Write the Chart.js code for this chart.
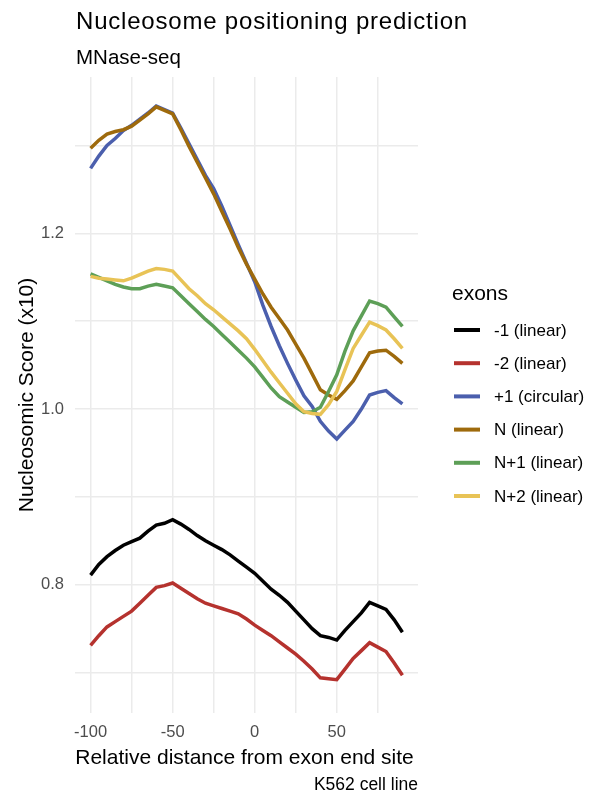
<!DOCTYPE html>
<html>
<head>
<meta charset="utf-8">
<script src="https://cdn.jsdelivr.net/npm/chart.js@4/dist/chart.umd.min.js"></script>
<style>
  body { margin: 0; background: #fff; }
  canvas { display: block; }
</style>
</head>
<body>
<canvas id="grafico" width="594" height="800"></canvas>
<script>
// posições relativas ao fim do exon
const distancias = [-100, -95, -90, -85, -80, -75, -70, -65, -60, -55, -50, -45, -40, -35, -30, -25, -20, -15, -10, -5,
  0, 5, 10, 15, 20, 25, 30, 35, 40, 45, 50, 55, 60, 65, 70, 75, 80, 85, 90];

const exonsNomes = ["-1 (linear)", "-2 (linear)", "+1 (circular)", "N (linear)", "N+1 (linear)", "N+2 (linear)"];
const exonsCores = ["#000000", "#B5322E", "#4B5FAD", "#9E6A0C", "#5D9F57", "#E8C356"];

const menos1 = [0.811, 0.823, 0.832, 0.839, 0.845, 0.849, 0.853, 0.861, 0.868, 0.870, 0.874, 0.869, 0.863, 0.856, 0.850, 0.845, 0.840, 0.834, 0.827, 0.820,
  0.813, 0.804, 0.795, 0.788, 0.780, 0.770, 0.760, 0.750, 0.742, 0.740, 0.737, 0.748, 0.758, 0.768, 0.780, 0.776, 0.772, 0.760, 0.746];
const menos2 = [0.731, 0.742, 0.752, 0.758, 0.764, 0.770, 0.779, 0.788, 0.797, 0.799, 0.802, 0.796, 0.790, 0.784, 0.779, 0.776, 0.773, 0.770, 0.767, 0.761,
  0.754, 0.748, 0.742, 0.735, 0.728, 0.721, 0.713, 0.704, 0.694, 0.693, 0.692, 0.704, 0.716, 0.725, 0.734, 0.729, 0.724, 0.711, 0.697];
const mais1 = [1.274, 1.288, 1.300, 1.308, 1.317, 1.323, 1.330, 1.337, 1.345, 1.341, 1.337, 1.320, 1.302, 1.284, 1.266, 1.251, 1.231, 1.209, 1.187, 1.166,
  1.145, 1.118, 1.094, 1.072, 1.052, 1.033, 1.015, 1.003, 0.986, 0.975, 0.966, 0.976, 0.986, 1.000, 1.016, 1.019, 1.021, 1.013, 1.006];
const exonN = [1.297, 1.306, 1.313, 1.316, 1.318, 1.322, 1.329, 1.336, 1.344, 1.340, 1.336, 1.318, 1.299, 1.281, 1.263, 1.245, 1.225, 1.205, 1.184, 1.165,
  1.148, 1.131, 1.116, 1.103, 1.090, 1.074, 1.058, 1.040, 1.022, 1.016, 1.011, 1.021, 1.032, 1.048, 1.064, 1.066, 1.067, 1.060, 1.052];
const exonN1 = [1.154, 1.150, 1.146, 1.142, 1.139, 1.137, 1.137, 1.140, 1.142, 1.140, 1.138, 1.129, 1.120, 1.111, 1.102, 1.094, 1.085, 1.076, 1.067, 1.058,
  1.048, 1.036, 1.024, 1.014, 1.008, 1.002, 0.996, 0.997, 1.002, 1.020, 1.039, 1.066, 1.089, 1.106, 1.123, 1.120, 1.116, 1.105, 1.094];
const exonN2 = [1.151, 1.149, 1.148, 1.147, 1.146, 1.149, 1.153, 1.157, 1.160, 1.159, 1.157, 1.147, 1.137, 1.129, 1.120, 1.113, 1.105, 1.097, 1.089, 1.080,
  1.068, 1.055, 1.042, 1.030, 1.018, 1.006, 0.997, 0.995, 0.994, 1.005, 1.020, 1.045, 1.069, 1.084, 1.099, 1.095, 1.090, 1.080, 1.069];

const series = [menos1, menos2, mais1, exonN, exonN1, exonN2];

const fonte = '"Liberation Sans", Arial, sans-serif';

// textos extras estilo ggplot (título, legenda, rótulos dos eixos)
const textosExtras = {
  id: "textosExtras",
  afterDraw(chart) {
    const ctx = chart.ctx;
    const area = chart.chartArea;
    ctx.save();
    ctx.fillStyle = "#000";
    ctx.textBaseline = "alphabetic";

    ctx.textAlign = "left";
    ctx.font = "24px " + fonte;
    ctx.letterSpacing = "0.8px";
    ctx.fillText("Nucleosome positioning prediction", 76, 29);
    ctx.letterSpacing = "0px";
    ctx.font = "20.5px " + fonte;
    ctx.fillText("MNase-seq", 76, 64);

    ctx.textAlign = "center";
    ctx.font = "21px " + fonte;
    ctx.fillText("Relative distance from exon end site", (area.left + area.right) / 2 - 2, 764);

    ctx.textAlign = "right";
    ctx.font = "17.5px " + fonte;
    ctx.fillText("K562 cell line", area.right, 790);

    ctx.save();
    ctx.translate(33, (area.top + area.bottom) / 2);
    ctx.rotate(-Math.PI / 2);
    ctx.textAlign = "center";
    ctx.font = "21px " + fonte;
    ctx.fillText("Nucleosomic Score (x10)", 0, 0);
    ctx.restore();

    // legenda
    ctx.textAlign = "left";
    ctx.font = "21px " + fonte;
    ctx.fillText("exons", 452, 300);
    ctx.font = "17px " + fonte;
    ctx.textBaseline = "middle";
    exonsNomes.forEach((nome, i) => {
      const y = 330 + i * 33.2;
      ctx.strokeStyle = exonsCores[i];
      ctx.lineWidth = 4;
      ctx.beginPath();
      ctx.moveTo(454, y);
      ctx.lineTo(480, y);
      ctx.stroke();
      ctx.fillStyle = "#000";
      ctx.fillText(nome, 494, y + 1);
    });
    ctx.restore();
  }
};

const ctx = document.getElementById("grafico").getContext("2d");

new Chart(ctx, {
  type: "line",
  data: {
    datasets: series.map((valores, i) => ({
      label: exonsNomes[i],
      data: distancias.map((d, k) => ({ x: d, y: valores[k] })),
      borderColor: exonsCores[i],
      borderWidth: 3.5,
      pointRadius: 0,
      tension: 0,
      fill: false,
      order: series.length - i
    }))
  },
  options: {
    responsive: false,
    animation: false,
    layout: { padding: { left: 0, top: 77, right: 176, bottom: 0 } },
    plugins: {
      legend: { display: false },
      tooltip: { enabled: false }
    },
    scales: {
      x: {
        type: "linear",
        min: -109.5,
        max: 99.5,
        border: { display: false },
        grid: { color: "#EBEBEB", lineWidth: 1.5, drawTicks: false },
        afterFit: s => { s.height = 87; },
        ticks: {
          stepSize: 25,
          includeBounds: false,
          autoSkip: false,
          maxRotation: 0,
          padding: 10,
          color: "#4D4D4D",
          font: { family: fonte, size: 16.5 },
          callback: v => (v % 50 === 0 ? String(v) : "")
        }
      },
      y: {
        min: 0.654,
        max: 1.378,
        border: { display: false },
        grid: { color: "#EBEBEB", lineWidth: 1.5, drawTicks: false },
        afterFit: s => { s.width = 75; },
        ticks: {
          stepSize: 0.1,
          includeBounds: false,
          autoSkip: false,
          padding: 11,
          color: "#4D4D4D",
          font: { family: fonte, size: 16.5 },
          callback: v => (Math.round(v * 10) % 2 === 0 ? v.toFixed(1) : "")
        }
      }
    }
  },
  plugins: [textosExtras]
});
</script>
</body>
</html>
